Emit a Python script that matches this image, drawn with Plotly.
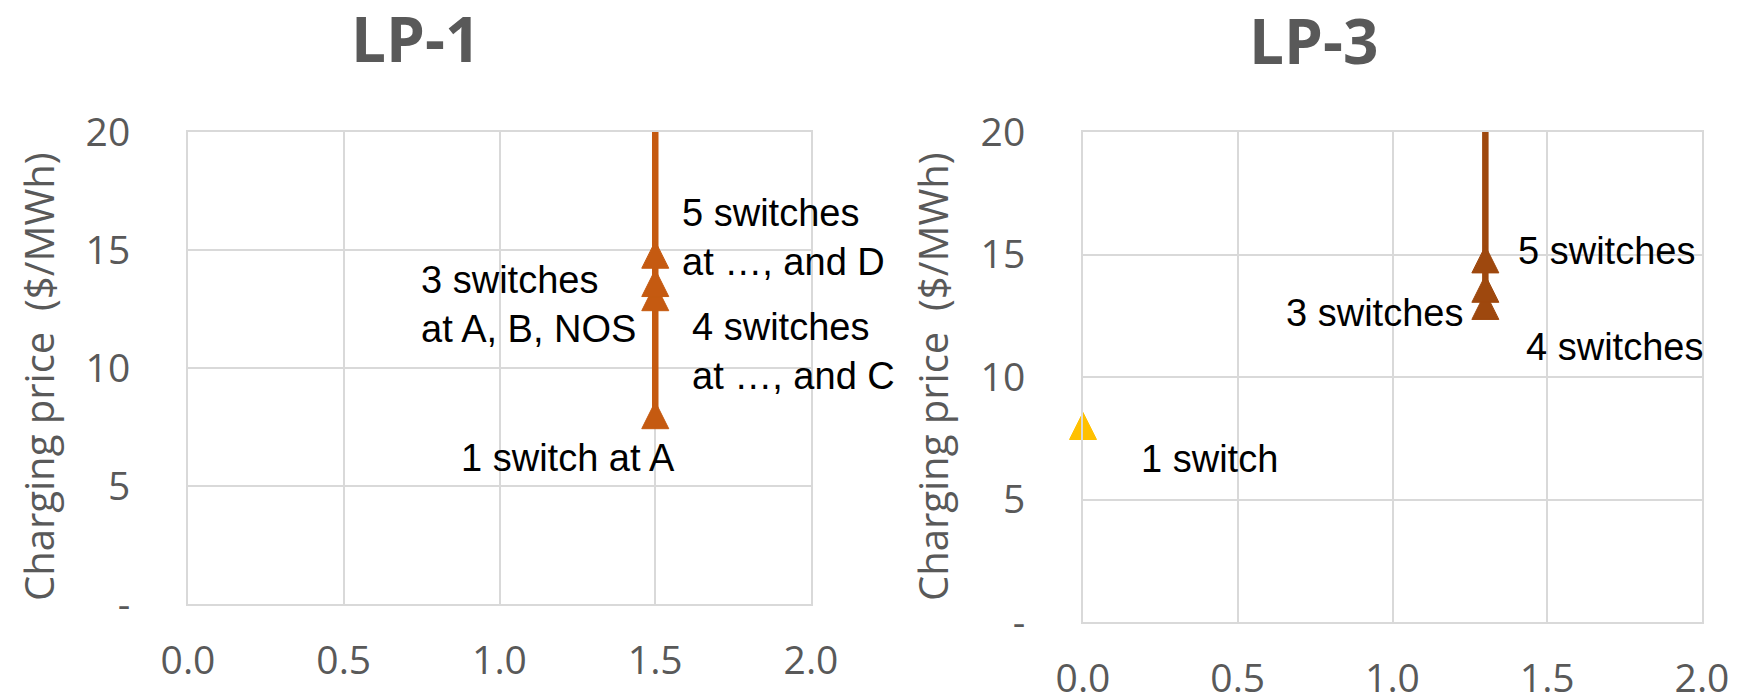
import plotly.graph_objects as go

# ---------------- data ----------------
x_tick_vals = [0.0, 0.5, 1.0, 1.5, 2.0]
x_tick_text = ["0.0", "0.5", "1.0", "1.5", "2.0"]
y_tick_vals = [0, 5, 10, 15, 20]
y_tick_text = ["-", "5", "10", "15", "20"]

# LP-1 : one series at x = 1.5 (last point lies above the chart top)
lp1_x = [1.5, 1.5, 1.5, 1.5, 1.5]
lp1_y = [8.0, 13.0, 13.6, 14.8, 25.0]

# LP-3 : 1 switch point (yellow) and the 3/4/5-switch series (brown)
lp3_one_x = [0.0]
lp3_one_y = [8.0]
lp3_x = [1.3, 1.3, 1.3, 1.3]
lp3_y = [12.9, 13.6, 14.8, 25.0]

# labels: (text, x, y)
lp1_labels = [
    ("5 switches<br>at …, and D", 1.58, 15.55),
    ("4 switches<br>at …, and C", 1.61, 10.7),
    ("3 switches<br>at A, B, NOS", 0.74, 12.7),
    ("1 switch at A", 0.87, 6.2),
]
lp3_labels = [
    ("5 switches", 1.40, 15.16),
    ("3 switches", 0.65, 12.6),
    ("4 switches", 1.425, 11.23),
    ("1 switch", 0.18, 6.67),
]

ORANGE = "#C55A11"
BROWN = "#9E480E"
YELLOW = "#FFC000"
GRAY = "#595959"
GRID = "#D9D9D9"
MSIZE = 27

W, H = 1743, 698


def px_x(p):
    return p / W


def px_y(p):
    return 1 - p / H


fig = go.Figure()


def marker(color, n_visible, n_total):
    sizes = [MSIZE] * n_visible + [0] * (n_total - n_visible)
    # arrow-down rotated 180deg with standoff -> a centred triangle
    return dict(symbol="arrow-down", angle=180, standoff=MSIZE / 2,
                size=sizes, color=color, opacity=1,
                line=dict(width=1, color=color))


fig.add_trace(go.Scatter(x=lp1_x, y=lp1_y, mode="lines+markers",
                         line=dict(color=ORANGE, width=6.5),
                         marker=marker(ORANGE, 4, len(lp1_y)),
                         cliponaxis=False, xaxis="x", yaxis="y",
                         showlegend=False, hoverinfo="skip"))
fig.add_trace(go.Scatter(x=lp3_one_x, y=lp3_one_y, mode="markers",
                         marker=marker(YELLOW, 1, 1),
                         cliponaxis=False, xaxis="x2", yaxis="y2",
                         showlegend=False, hoverinfo="skip"))
fig.add_trace(go.Scatter(x=lp3_x, y=lp3_y, mode="lines+markers",
                         line=dict(color=BROWN, width=6.5),
                         marker=marker(BROWN, 3, len(lp3_y)),
                         cliponaxis=False, xaxis="x2", yaxis="y2",
                         showlegend=False, hoverinfo="skip"))

tick_font = dict(family="Open Sans", size=39, color=GRAY)

axis_common = dict(showgrid=True, gridcolor=GRID, gridwidth=2,
                   showline=True, linecolor=GRID, linewidth=2, mirror=True,
                   zeroline=False, ticks="", tickfont=tick_font,
                   automargin=False, fixedrange=True)

fig.update_layout(
    width=W, height=H,
    margin=dict(l=0, r=0, t=0, b=0, autoexpand=False),
    paper_bgcolor="white", plot_bgcolor="white",
    xaxis=dict(domain=[px_x(188), px_x(811)], range=[0, 2], anchor="y",
               tickvals=x_tick_vals, ticktext=x_tick_text,
               ticklabelstandoff=21, **axis_common),
    yaxis=dict(domain=[px_y(604), px_y(132)], range=[0, 20], anchor="x",
               tickvals=y_tick_vals, ticktext=y_tick_text,
               ticklabelstandoff=48, **axis_common),
    xaxis2=dict(domain=[px_x(1083), px_x(1702)], range=[0, 2], anchor="y2",
                tickvals=x_tick_vals, ticktext=x_tick_text,
                ticklabelstandoff=21, **axis_common),
    yaxis2=dict(domain=[px_y(622), px_y(132)], range=[0, 20], anchor="x2",
                tickvals=y_tick_vals, ticktext=y_tick_text,
                ticklabelstandoff=48, **axis_common),
)

annotations = []
# panel titles
for txt, cx, cy in [("LP-1", 415, 38), ("LP-3", 1313, 40)]:
    annotations.append(dict(text=f"<b>{txt}</b>", x=px_x(cx), y=px_y(cy),
                            xref="paper", yref="paper", showarrow=False,
                            xanchor="center", yanchor="middle",
                            font=dict(family="Open Sans", size=62, color=GRAY)))
# axis titles
for cx in (38, 932):
    annotations.append(dict(text="Charging price  ($/MWh)", x=px_x(cx), y=px_y(377),
                            xref="paper", yref="paper", showarrow=False,
                            textangle=-90, xanchor="center", yanchor="middle",
                            font=dict(family="Open Sans", size=40, color=GRAY)))
# data labels
for labels, xr, yr in [(lp1_labels, "x", "y"), (lp3_labels, "x2", "y2")]:
    for txt, lx, ly in labels:
        annotations.append(dict(text=txt, x=lx, y=ly, xref=xr, yref=yr,
                                showarrow=False, xanchor="left", yanchor="middle",
                                align="left",
                                font=dict(family="Liberation Sans", size=38, color="black")))
fig.update_layout(annotations=annotations)

fig.write_html("out.html", config={"displayModeBar": False},
               post_script="document.body.style.margin='0';document.body.style.overflow='hidden';")
